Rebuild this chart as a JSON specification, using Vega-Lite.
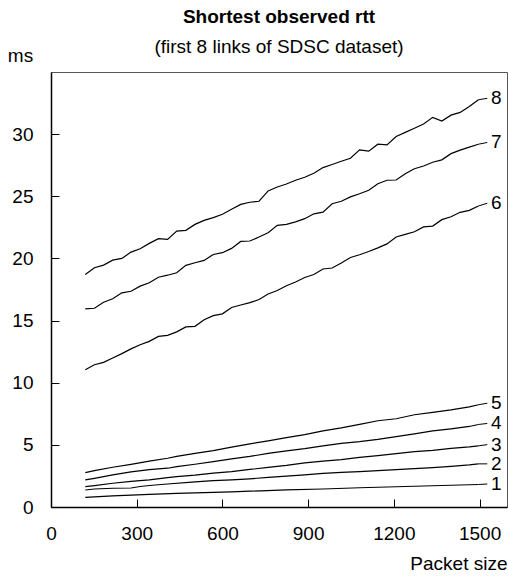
{
  "$schema": "https://vega.github.io/schema/vega-lite/v6.json",
  "width": 456,
  "height": 435,
  "autosize": {"type": "none"},
  "padding": {"left": 51, "top": 72, "right": 1, "bottom": 72},
  "background": "white",
  "config": {
    "font": "Liberation Sans",
    "view": {"stroke": "#555555", "strokeWidth": 1}
  },
  "title": {
    "text": "Shortest observed rtt",
    "subtitle": "(first 8 links of SDSC dataset)",
    "fontSize": 19,
    "fontWeight": "bold",
    "subtitleFontSize": 19,
    "subtitleFontWeight": "normal",
    "color": "black",
    "subtitleColor": "black",
    "anchor": "middle",
    "subtitlePadding": 11,
    "offset": -11
  },
  "datasets": {
    "lines": [
      {"s":"8","x":120,"y":18.71},{"s":"8","x":152,"y":19.25},{"s":"8","x":184,"y":19.46},{"s":"8","x":216,"y":19.86},{"s":"8","x":248,"y":20.00},{"s":"8","x":280,"y":20.51},{"s":"8","x":312,"y":20.78},{"s":"8","x":344,"y":21.21},{"s":"8","x":376,"y":21.59},{"s":"8","x":408,"y":21.53},{"s":"8","x":440,"y":22.20},{"s":"8","x":472,"y":22.26},{"s":"8","x":504,"y":22.74},{"s":"8","x":536,"y":23.06},{"s":"8","x":568,"y":23.28},{"s":"8","x":600,"y":23.55},{"s":"8","x":632,"y":23.95},{"s":"8","x":664,"y":24.35},{"s":"8","x":696,"y":24.52},{"s":"8","x":728,"y":24.60},{"s":"8","x":760,"y":25.43},{"s":"8","x":792,"y":25.75},{"s":"8","x":824,"y":25.99},{"s":"8","x":856,"y":26.29},{"s":"8","x":888,"y":26.53},{"s":"8","x":920,"y":26.85},{"s":"8","x":952,"y":27.31},{"s":"8","x":984,"y":27.56},{"s":"8","x":1016,"y":27.82},{"s":"8","x":1048,"y":28.06},{"s":"8","x":1080,"y":28.73},{"s":"8","x":1112,"y":28.63},{"s":"8","x":1144,"y":29.19},{"s":"8","x":1176,"y":29.14},{"s":"8","x":1208,"y":29.81},{"s":"8","x":1240,"y":30.14},{"s":"8","x":1272,"y":30.48},{"s":"8","x":1304,"y":30.81},{"s":"8","x":1336,"y":31.35},{"s":"8","x":1368,"y":31.05},{"s":"8","x":1400,"y":31.53},{"s":"8","x":1432,"y":31.75},{"s":"8","x":1464,"y":32.23},{"s":"8","x":1496,"y":32.77},
      {"s":"7","x":120,"y":15.94},{"s":"7","x":152,"y":15.99},{"s":"7","x":184,"y":16.48},{"s":"7","x":216,"y":16.75},{"s":"7","x":248,"y":17.23},{"s":"7","x":280,"y":17.36},{"s":"7","x":312,"y":17.77},{"s":"7","x":344,"y":18.04},{"s":"7","x":376,"y":18.49},{"s":"7","x":408,"y":18.65},{"s":"7","x":440,"y":18.85},{"s":"7","x":472,"y":19.44},{"s":"7","x":504,"y":19.65},{"s":"7","x":536,"y":19.84},{"s":"7","x":568,"y":20.32},{"s":"7","x":600,"y":20.46},{"s":"7","x":632,"y":20.81},{"s":"7","x":664,"y":21.37},{"s":"7","x":696,"y":21.40},{"s":"7","x":728,"y":21.72},{"s":"7","x":760,"y":22.07},{"s":"7","x":792,"y":22.66},{"s":"7","x":824,"y":22.74},{"s":"7","x":856,"y":22.94},{"s":"7","x":888,"y":23.20},{"s":"7","x":920,"y":23.59},{"s":"7","x":952,"y":23.73},{"s":"7","x":984,"y":24.40},{"s":"7","x":1016,"y":24.60},{"s":"7","x":1048,"y":24.95},{"s":"7","x":1080,"y":25.20},{"s":"7","x":1112,"y":25.48},{"s":"7","x":1144,"y":26.01},{"s":"7","x":1176,"y":26.29},{"s":"7","x":1208,"y":26.31},{"s":"7","x":1240,"y":26.81},{"s":"7","x":1272,"y":27.22},{"s":"7","x":1304,"y":27.44},{"s":"7","x":1336,"y":27.74},{"s":"7","x":1368,"y":27.93},{"s":"7","x":1400,"y":28.43},{"s":"7","x":1432,"y":28.71},{"s":"7","x":1464,"y":28.95},{"s":"7","x":1496,"y":29.19},
      {"s":"6","x":120,"y":11.05},{"s":"6","x":152,"y":11.45},{"s":"6","x":184,"y":11.64},{"s":"6","x":216,"y":11.99},{"s":"6","x":248,"y":12.34},{"s":"6","x":280,"y":12.72},{"s":"6","x":312,"y":13.06},{"s":"6","x":344,"y":13.33},{"s":"6","x":376,"y":13.73},{"s":"6","x":408,"y":13.81},{"s":"6","x":440,"y":14.09},{"s":"6","x":472,"y":14.49},{"s":"6","x":504,"y":14.54},{"s":"6","x":536,"y":15.06},{"s":"6","x":568,"y":15.40},{"s":"6","x":600,"y":15.54},{"s":"6","x":632,"y":16.05},{"s":"6","x":664,"y":16.25},{"s":"6","x":696,"y":16.44},{"s":"6","x":728,"y":16.69},{"s":"6","x":760,"y":17.14},{"s":"6","x":792,"y":17.42},{"s":"6","x":824,"y":17.80},{"s":"6","x":856,"y":18.10},{"s":"6","x":888,"y":18.47},{"s":"6","x":920,"y":18.71},{"s":"6","x":952,"y":19.15},{"s":"6","x":984,"y":19.23},{"s":"6","x":1016,"y":19.64},{"s":"6","x":1048,"y":20.08},{"s":"6","x":1080,"y":20.30},{"s":"6","x":1112,"y":20.56},{"s":"6","x":1144,"y":20.85},{"s":"6","x":1176,"y":21.17},{"s":"6","x":1208,"y":21.73},{"s":"6","x":1240,"y":21.94},{"s":"6","x":1272,"y":22.15},{"s":"6","x":1304,"y":22.54},{"s":"6","x":1336,"y":22.60},{"s":"6","x":1368,"y":23.12},{"s":"6","x":1400,"y":23.35},{"s":"6","x":1432,"y":23.71},{"s":"6","x":1464,"y":23.87},{"s":"6","x":1496,"y":24.22},
      {"s":"5","x":120,"y":2.77},{"s":"5","x":152,"y":2.93},{"s":"5","x":216,"y":3.20},{"s":"5","x":280,"y":3.43},{"s":"5","x":344,"y":3.69},{"s":"5","x":408,"y":3.92},{"s":"5","x":440,"y":4.07},{"s":"5","x":504,"y":4.31},{"s":"5","x":568,"y":4.53},{"s":"5","x":632,"y":4.82},{"s":"5","x":696,"y":5.08},{"s":"5","x":760,"y":5.32},{"s":"5","x":824,"y":5.58},{"s":"5","x":888,"y":5.83},{"s":"5","x":952,"y":6.13},{"s":"5","x":1016,"y":6.37},{"s":"5","x":1080,"y":6.65},{"s":"5","x":1144,"y":6.94},{"s":"5","x":1208,"y":7.10},{"s":"5","x":1272,"y":7.42},{"s":"5","x":1336,"y":7.62},{"s":"5","x":1400,"y":7.82},{"s":"5","x":1464,"y":8.06},{"s":"5","x":1496,"y":8.23},
      {"s":"4","x":120,"y":2.18},{"s":"4","x":152,"y":2.31},{"s":"4","x":216,"y":2.58},{"s":"4","x":280,"y":2.82},{"s":"4","x":344,"y":3.01},{"s":"4","x":408,"y":3.12},{"s":"4","x":440,"y":3.25},{"s":"4","x":504,"y":3.44},{"s":"4","x":568,"y":3.65},{"s":"4","x":632,"y":3.87},{"s":"4","x":696,"y":4.07},{"s":"4","x":760,"y":4.31},{"s":"4","x":824,"y":4.52},{"s":"4","x":888,"y":4.69},{"s":"4","x":952,"y":4.92},{"s":"4","x":1016,"y":5.12},{"s":"4","x":1080,"y":5.26},{"s":"4","x":1144,"y":5.44},{"s":"4","x":1208,"y":5.66},{"s":"4","x":1272,"y":5.89},{"s":"4","x":1336,"y":6.13},{"s":"4","x":1400,"y":6.29},{"s":"4","x":1464,"y":6.48},{"s":"4","x":1496,"y":6.64},
      {"s":"3","x":120,"y":1.64},{"s":"3","x":152,"y":1.72},{"s":"3","x":216,"y":1.91},{"s":"3","x":280,"y":2.06},{"s":"3","x":344,"y":2.19},{"s":"3","x":408,"y":2.36},{"s":"3","x":440,"y":2.44},{"s":"3","x":504,"y":2.56},{"s":"3","x":568,"y":2.72},{"s":"3","x":632,"y":2.85},{"s":"3","x":696,"y":3.02},{"s":"3","x":760,"y":3.19},{"s":"3","x":824,"y":3.35},{"s":"3","x":888,"y":3.55},{"s":"3","x":952,"y":3.69},{"s":"3","x":1016,"y":3.81},{"s":"3","x":1080,"y":3.99},{"s":"3","x":1144,"y":4.13},{"s":"3","x":1208,"y":4.29},{"s":"3","x":1272,"y":4.45},{"s":"3","x":1336,"y":4.56},{"s":"3","x":1400,"y":4.72},{"s":"3","x":1464,"y":4.84},{"s":"3","x":1496,"y":4.92},
      {"s":"2","x":120,"y":1.37},{"s":"2","x":152,"y":1.45},{"s":"2","x":216,"y":1.51},{"s":"2","x":280,"y":1.53},{"s":"2","x":312,"y":1.65},{"s":"2","x":344,"y":1.73},{"s":"2","x":408,"y":1.85},{"s":"2","x":504,"y":2.02},{"s":"2","x":568,"y":2.12},{"s":"2","x":632,"y":2.18},{"s":"2","x":696,"y":2.27},{"s":"2","x":760,"y":2.38},{"s":"2","x":824,"y":2.48},{"s":"2","x":888,"y":2.58},{"s":"2","x":952,"y":2.70},{"s":"2","x":1016,"y":2.78},{"s":"2","x":1080,"y":2.85},{"s":"2","x":1144,"y":2.92},{"s":"2","x":1208,"y":3.00},{"s":"2","x":1272,"y":3.08},{"s":"2","x":1336,"y":3.17},{"s":"2","x":1400,"y":3.27},{"s":"2","x":1464,"y":3.39},{"s":"2","x":1496,"y":3.47},
      {"s":"1","x":120,"y":0.78},{"s":"1","x":216,"y":0.89},{"s":"1","x":344,"y":1.02},{"s":"1","x":440,"y":1.10},{"s":"1","x":632,"y":1.21},{"s":"1","x":696,"y":1.27},{"s":"1","x":824,"y":1.37},{"s":"1","x":952,"y":1.45},{"s":"1","x":1080,"y":1.55},{"s":"1","x":1208,"y":1.63},{"s":"1","x":1336,"y":1.71},{"s":"1","x":1464,"y":1.79},{"s":"1","x":1496,"y":1.81}
    ],
    "leaders": [
      {"s":"8","x":1496,"y":32.77},{"s":"8","x":1527,"y":32.88},
      {"s":"7","x":1496,"y":29.19},{"s":"7","x":1527,"y":29.33},
      {"s":"6","x":1496,"y":24.22},{"s":"6","x":1527,"y":24.44},
      {"s":"5","x":1496,"y":8.23},{"s":"5","x":1527,"y":8.35},
      {"s":"4","x":1496,"y":6.64},{"s":"4","x":1527,"y":6.72},
      {"s":"3","x":1496,"y":4.92},{"s":"3","x":1527,"y":5.02},
      {"s":"2","x":1496,"y":3.47},{"s":"2","x":1527,"y":3.47},
      {"s":"1","x":1496,"y":1.81},{"s":"1","x":1527,"y":1.85}
    ],
    "labels": [
      {"s":"8","x":1540,"y":32.88},
      {"s":"7","x":1540,"y":29.33},
      {"s":"6","x":1540,"y":24.44},
      {"s":"5","x":1540,"y":8.35},
      {"s":"4","x":1540,"y":6.72},
      {"s":"3","x":1540,"y":5.02},
      {"s":"2","x":1540,"y":3.47},
      {"s":"1","x":1540,"y":1.85}
    ]
  },
  "layer": [
    {
      "data": {"name": "lines"},
      "mark": {"type": "line", "color": "black", "strokeWidth": 1.2},
      "encoding": {
        "x": {
          "field": "x", "type": "quantitative",
          "scale": {"domain": [0, 1596], "nice": false, "zero": false},
          "axis": {
            "values": [0, 300, 600, 900, 1200, 1500],
            "format": "d",
            "grid": false,
            "tickSize": -8,
            "tickColor": "black",
            "domainColor": "black",
            "domainWidth": 1.5,
            "labelPadding": 25,
            "labelFontSize": 19,
            "labelColor": "black",
            "labelFlush": false,
            "title": "Packet size",
            "titleFontSize": 19,
            "titleFontWeight": "normal",
            "titleColor": "black",
            "titleAnchor": null,
            "titleAlign": "right",
            "titleBaseline": "alphabetic",
            "titleX": 456,
            "titleY": 62
          }
        },
        "y": {
          "field": "y", "type": "quantitative",
          "scale": {"domain": [0, 35], "nice": false},
          "axis": {
            "values": [0, 5, 10, 15, 20, 25, 30],
            "grid": false,
            "tickSize": -8,
            "tickColor": "black",
            "domainColor": "black",
            "domainWidth": 1.5,
            "labelPadding": 26,
            "labelFontSize": 19,
            "labelColor": "black",
            "title": "ms",
            "titleAngle": 0,
            "titleFontSize": 19,
            "titleFontWeight": "normal",
            "titleColor": "black",
            "titleAnchor": null,
            "titleAlign": "center",
            "titleBaseline": "alphabetic",
            "titleX": -31,
            "titleY": -11
          }
        },
        "detail": {"field": "s", "type": "nominal"}
      }
    },
    {
      "data": {"name": "leaders"},
      "mark": {"type": "line", "color": "black", "strokeWidth": 1},
      "encoding": {
        "x": {"field": "x", "type": "quantitative"},
        "y": {"field": "y", "type": "quantitative"},
        "detail": {"field": "s", "type": "nominal"}
      }
    },
    {
      "data": {"name": "labels"},
      "mark": {"type": "text", "align": "left", "baseline": "middle", "fontSize": 19, "color": "black"},
      "encoding": {
        "x": {"field": "x", "type": "quantitative"},
        "y": {"field": "y", "type": "quantitative"},
        "text": {"field": "s", "type": "nominal"}
      }
    }
  ]
}
